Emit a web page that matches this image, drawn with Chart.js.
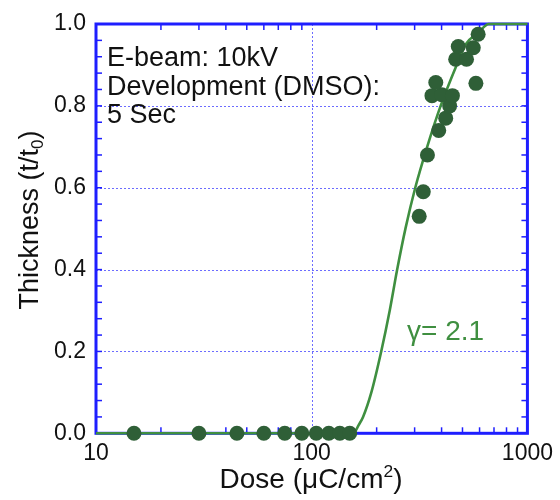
<!DOCTYPE html>
<html>
<head>
<meta charset="utf-8">
<script src="https://cdn.jsdelivr.net/npm/chart.js@4"></script>
<style>
  html, body { margin: 0; padding: 0; background: #fff; }
  #wrap { width: 560px; height: 500px; }
</style>
</head>
<body>
<div id="wrap"><canvas id="chart" width="560" height="500"></canvas></div>
<script>
// measured points (dose in uC/cm2, normalised thickness)
const doseValues = [15, 30, 45, 60, 75, 90, 105, 120, 135, 150,
  315, 329, 344, 388, 418, 436, 361, 401, 449, 376, 577, 465, 522, 478, 561, 591];
const thicknessValues = [0, 0, 0, 0, 0, 0, 0, 0, 0, 0,
  0.53, 0.59, 0.68, 0.74, 0.77, 0.80, 0.825, 0.827, 0.825, 0.857, 0.855, 0.914, 0.914, 0.945, 0.942, 0.975];

// fitted contrast curve
const fitDose = [10, 100, 150, 156, 165, 173, 189, 210, 230, 249, 272, 302, 343, 396, 470, 517, 596, 662, 1000];
const fitThickness = [0, 0, 0, 0, 0.02, 0.04, 0.1, 0.2, 0.3, 0.4, 0.5, 0.6, 0.7, 0.8, 0.9, 0.95, 0.98, 1.0, 1.0];

const xTickLabels = [10, 100, 1000];
const xMinorTicks = [20, 30, 40, 50, 60, 70, 80, 90, 200, 300, 400, 500, 600, 700, 800, 900];
const xGridLines = [100];
const yGridLines = [0.2, 0.4, 0.6, 0.8];
const yMinorTicks = [0.04, 0.08, 0.12, 0.16, 0.2, 0.24, 0.28, 0.32, 0.36, 0.4, 0.44, 0.48,
  0.52, 0.56, 0.6, 0.64, 0.68, 0.72, 0.76, 0.8, 0.84, 0.88, 0.92, 0.96];

const notes = ['E-beam: 10kV', 'Development (DMSO):', '5 Sec'];
const gammaLabel = 'γ= 2.1';

const FONT = '"Liberation Sans", Arial, Helvetica, sans-serif';
const BLUE = '#1e1eff';
const GRID = '#6c6cff';
const DOT = '#2f5f37';
const LINE = '#3f8f40';

function drawScript(ctx, parts, x, y, size) {
  // parts: [text, mode] mode = '' | 'sup' | 'sub'
  let cx = x;
  parts.forEach(([t, mode]) => {
    const s = mode ? size * 0.62 : size;
    ctx.font = `${s}px ${FONT}`;
    const dy = mode === 'sup' ? -size * 0.38 : mode === 'sub' ? size * 0.2 : 0;
    ctx.fillText(t, cx, y + dy);
    cx += ctx.measureText(t).width;
  });
  return cx - x;
}
function measureScript(ctx, parts, size) {
  let w = 0;
  parts.forEach(([t, mode]) => {
    ctx.font = `${mode ? size * 0.62 : size}px ${FONT}`;
    w += ctx.measureText(t).width;
  });
  return w;
}

const framePlugin = {
  id: 'frame',
  beforeDatasetsDraw(chart) {
    const { ctx, chartArea: a, scales: { x, y } } = chart;
    ctx.save();
    const seg = (x1, y1, x2, y2) => { ctx.beginPath(); ctx.moveTo(x1, y1); ctx.lineTo(x2, y2); ctx.stroke(); };

    ctx.strokeStyle = GRID;
    ctx.lineWidth = 1;
    ctx.setLineDash([2, 2]);
    xGridLines.forEach(v => { const p = Math.round(x.getPixelForValue(v)) + 0.5; seg(p, a.top, p, a.bottom); });
    yGridLines.forEach(v => { const p = Math.round(y.getPixelForValue(v)) + 0.5; seg(a.left, p, a.right, p); });
    ctx.setLineDash([]);

    ctx.strokeStyle = BLUE;
    ctx.lineWidth = 1.5;
    xMinorTicks.forEach(v => {
      const p = x.getPixelForValue(v);
      seg(p, a.top, p, a.top + 6);
      seg(p, a.bottom, p, a.bottom - 6);
    });
    yMinorTicks.forEach(v => {
      const p = y.getPixelForValue(v);
      seg(a.left, p, a.left + 6, p);
      seg(a.right, p, a.right - 6, p);
    });

    ctx.lineWidth = 3;
    ctx.strokeRect(a.left, a.top, a.right - a.left, a.bottom - a.top);
    ctx.restore();
  },
  afterDraw(chart) {
    const { ctx, chartArea: a } = chart;
    ctx.save();
    ctx.fillStyle = '#111';
    ctx.textBaseline = 'alphabetic';
    ctx.textAlign = 'left';
    ctx.font = `27px ${FONT}`;
    notes.forEach((t, i) => ctx.fillText(t, a.left + 11, 66 + i * 28.5));

    ctx.fillStyle = LINE;
    ctx.font = `28px ${FONT}`;
    ctx.fillText(gammaLabel, 407, 340);

    // x title
    ctx.fillStyle = '#111';
    const xt = [['Dose (μC/cm', ''], ['2', 'sup'], [')', '']];
    const xw = measureScript(ctx, xt, 28);
    drawScript(ctx, xt, 311 - xw / 2, 488, 28);

    // y title
    const yt = [['Thickness (t/t', ''], ['0', 'sub'], [')', '']];
    const yw = measureScript(ctx, yt, 27);
    ctx.translate(38, 220);
    ctx.rotate(-Math.PI / 2);
    drawScript(ctx, yt, -yw / 2, 0, 27);
    ctx.restore();
  }
};

const curvePoints = fitDose.map((d, i) => ({ x: d, y: fitThickness[i] }));
const dataPoints = doseValues.map((d, i) => ({ x: d, y: thicknessValues[i] }));

new Chart(document.getElementById('chart'), {
  type: 'scatter',
  data: {
    datasets: [
      {
        data: dataPoints,
        pointRadius: 7.5,
        pointHoverRadius: 7.5,
        backgroundColor: DOT,
        borderWidth: 0,
        clip: false
      },
      {
        data: curvePoints,
        showLine: true,
        pointRadius: 0,
        borderColor: LINE,
        borderWidth: 2.6,
        cubicInterpolationMode: 'monotone',
        clip: false
      }
    ]
  },
  options: {
    responsive: false,
    animation: false,
    layout: { padding: { left: 0, top: 24, right: 29.5, bottom: 0 } },
    plugins: { legend: { display: false }, tooltip: { enabled: false } },
    scales: {
      x: {
        type: 'logarithmic',
        min: 10, max: 1000,
        afterBuildTicks: s => { s.ticks = xTickLabels.map(v => ({ value: v })); },
        afterFit: s => { s.height = 66.7; },
        grid: { display: false, drawTicks: false },
        border: { display: false },
        ticks: {
          color: '#111', padding: 7, maxRotation: 0, autoSkip: false,
          font: { family: FONT, size: 23 },
          callback: v => String(v)
        }
      },
      y: {
        min: 0, max: 1,
        afterFit: s => { s.width = 96; },
        grid: { display: false, drawTicks: false },
        border: { display: false },
        ticks: {
          color: '#111', padding: 10, stepSize: 0.2,
          font: { family: FONT, size: 23 },
          callback: v => v.toFixed(1)
        }
      }
    }
  },
  plugins: [framePlugin]
});
</script>
</body>
</html>
